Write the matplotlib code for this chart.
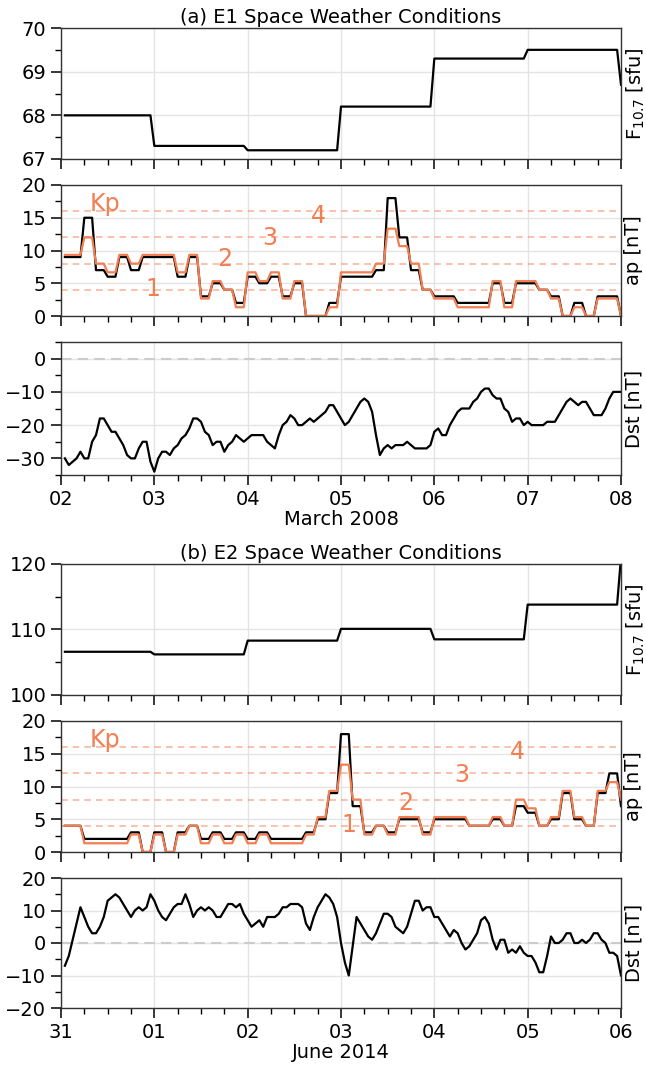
import numpy as np
import pandas as pd
import matplotlib
matplotlib.use('Agg')
import matplotlib.pyplot as plt
import matplotlib.dates as mdates
from matplotlib.ticker import MultipleLocator

# ---------------- E1, March 2008 ----------------
e1_start = '2008-03-02'
e1_f107 = [68.0, 67.3, 67.2, 68.2, 69.3, 69.5, 68.7]   # daily, last one = Mar 8
e1_ap = [9, 9, 15, 7, 6, 9, 7, 9,
         9, 9, 6, 9, 3, 5, 4, 2,
         6, 5, 6, 3, 5, 0, 0, 2,
         6, 6, 6, 7, 18, 12, 7, 4,
         3, 3, 2, 2, 2, 5, 2, 5,
         5, 4, 3, 0, 2, 0, 3, 3,
         0]                                              # 3-hourly, last one = Mar 8 00UT
e1_dst = [-30, -32, -31, -30, -28, -30, -30, -25, -23, -18, -18, -20, -22, -22, -24, -26, -29, -30, -30, -27, -25, -25, -31, -34,
          -30, -28, -28, -29, -27, -26, -24, -23, -21, -18, -18, -19, -22, -23, -26, -25, -25, -28, -26, -25, -23, -24, -25, -24,
          -23, -23, -23, -23, -25, -26, -27, -23, -20, -19, -17, -18, -20, -20, -19, -18, -19, -18, -17, -16, -14, -14, -16, -18,
          -20, -19, -17, -15, -13, -12, -13, -16, -23, -29, -27, -26, -27, -26, -26, -26, -25, -26, -27, -27, -27, -27, -26, -22,
          -21, -23, -23, -20, -18, -16, -15, -15, -15, -13, -12, -10, -9, -9, -11, -12, -12, -15, -16, -19, -18, -18, -20, -19,
          -20, -20, -20, -20, -19, -19, -19, -17, -15, -13, -12, -13, -14, -13, -13, -15, -17, -17, -17, -15, -12, -10, -10, -10]

# ---------------- E2, June 2014 ----------------
e2_start = '2014-05-31'
e2_f107 = [106.6, 106.2, 108.3, 110.1, 108.5, 113.8, 121.0]
e2_ap = [4, 4, 2, 2, 2, 2, 3, 0,
         3, 0, 3, 4, 2, 3, 2, 3,
         2, 3, 2, 2, 2, 3, 5, 9,
         18, 7, 3, 4, 3, 5, 5, 3,
         5, 5, 5, 4, 4, 5, 4, 7,
         6, 4, 5, 9, 5, 4, 9, 12,
         7]
e2_dst = [-7, -4, 1, 6, 11, 8, 5, 3, 3, 5, 8, 13, 14, 15, 14, 12, 10, 8, 10, 11, 10, 11, 15, 13,
          10, 8, 7, 9, 11, 12, 12, 15, 12, 8, 10, 11, 10, 11, 10, 8, 8, 10, 12, 12, 11, 12, 9, 7,
          5, 6, 7, 5, 8, 8, 8, 9, 11, 11, 12, 12, 12, 11, 6, 4, 8, 11, 13, 15, 14, 12, 8, 0,
          -6, -10, -1, 8, 6, 4, 2, 1, 3, 6, 9, 9, 8, 5, 4, 3, 5, 9, 13, 13, 10, 11, 11, 8,
          8, 6, 4, 2, 4, 3, 0, -2, -1, 1, 3, 7, 8, 6, 1, -2, 1, 1, -3, -2, -3, -1, -3, -4,
          -4, -6, -9, -9, -4, 2, 0, 0, 1, 3, 3, 0, 0, 1, 0, 1, 3, 3, 1, 0, -3, -3, -4, -10]

# standard ap -> Kp table
ap_table = [0, 2, 3, 4, 5, 6, 7, 9, 12, 15, 18, 22, 27]
kp_table = [0, 1/3, 2/3, 1, 4/3, 5/3, 2, 7/3, 8/3, 3, 10/3, 11/3, 4]

ORANGE = '#f27e52'
FS = 14

plt.rcParams['font.family'] = 'DejaVu Sans'
plt.rcParams['font.size'] = FS

fig = plt.figure(figsize=(6.46, 10.65), dpi=100)
W, H = 646.0, 1065.0


def make_ax(top, bottom):
    return fig.add_axes([61 / W, 1 - bottom / H, 560 / W, (bottom - top) / H])


def style(ax, start):
    t0 = mdates.date2num(pd.Timestamp(start))
    ax.set_xlim(t0, t0 + 6)
    ax.xaxis.set_major_locator(mdates.DayLocator())
    ax.xaxis.set_minor_locator(mdates.HourLocator(byhour=[6, 12, 18]))
    ax.xaxis.set_major_formatter(mdates.DateFormatter('%d'))
    ax.tick_params(which='major', direction='out', length=7.5, width=1.1, labelsize=FS, pad=3)
    ax.tick_params(which='minor', direction='out', length=4.5, width=1.0)
    ax.grid(True, which='major', color='#e4e4e4', lw=1.0)
    ax.set_axisbelow(True)
    ax.yaxis.set_label_position('right')
    for s in ax.spines.values():
        s.set_color('#333333')
        s.set_linewidth(1.0)


def event(tops, start, f107, ap, dst, title, xlabel, flim, fstep, dlim, kp_pos):
    hours = np.arange(1, 145)
    t = mdates.date2num(pd.Timestamp(start)) + hours / 24.0
    f_h = np.array(f107)[hours // 24]
    ap_h = np.array(ap)[hours // 3]
    kp = np.array([kp_table[ap_table.index(a)] for a in ap])
    kp_h = kp[hours // 3] * 4

    ax1 = make_ax(*tops[0])
    ax2 = make_ax(*tops[1])
    ax3 = make_ax(*tops[2])

    # F10.7
    ax1.plot(t, f_h, color='k', lw=1.6)
    ax1.set_ylim(*flim)
    ax1.yaxis.set_major_locator(MultipleLocator(fstep))
    ax1.yaxis.set_minor_locator(MultipleLocator(fstep / 2))
    ax1.set_ylabel('F$_{10.7}$ [sfu]', fontsize=FS, labelpad=2.5)
    ax1.set_title(title, fontsize=FS, pad=3.5)

    # ap + Kp
    for lev in [4, 8, 12, 16]:
        ax2.axhline(lev, color=ORANGE, alpha=0.55, lw=1.2, ls=(0, (4, 3)))
    ax2.plot(t, ap_h, color='k', lw=1.6)
    ax2.plot(t, kp_h, color=ORANGE, lw=1.6)
    ax2.set_ylim(0, 20)
    ax2.yaxis.set_major_locator(MultipleLocator(5))
    ax2.yaxis.set_minor_locator(MultipleLocator(2.5))
    ax2.set_ylabel('ap [nT]', fontsize=FS, labelpad=2.5)
    t0 = mdates.date2num(pd.Timestamp(start))
    for txt, (dx, y) in zip(['Kp', '1', '2', '3', '4'], kp_pos):
        ax2.text(t0 + dx, y, txt, color=ORANGE, fontsize=17, ha='center', va='baseline')

    # Dst
    ax3.axhline(0, color='#cccccc', lw=1.5, ls=(0, (5, 3)))
    ax3.plot(t, dst, color='k', lw=1.6)
    ax3.set_ylim(*dlim)
    ax3.yaxis.set_major_locator(MultipleLocator(10))
    ax3.yaxis.set_minor_locator(MultipleLocator(5))
    ax3.set_ylabel('Dst [nT]', fontsize=FS, labelpad=2.5)
    ax3.set_xlabel(xlabel, fontsize=FS, labelpad=1)

    for ax in (ax1, ax2, ax3):
        style(ax, start)
    ax1.tick_params(labelbottom=False)
    ax2.tick_params(labelbottom=False)


event([(28, 159), (185, 316), (342, 475)], e1_start, e1_f107, e1_ap, e1_dst,
      '(a) E1 Space Weather Conditions', 'March 2008', (67, 70), 1, (-35, 5),
      [(0.47, 16.0), (0.98, 3.05), (1.75, 7.6), (2.24, 10.9), (2.76, 14.25)])

event([(564, 695), (721, 852), (878, 1008)], e2_start, e2_f107, e2_ap, e2_dst,
      '(b) E2 Space Weather Conditions', 'June 2014', (100, 120), 10, (-20, 20),
      [(0.47, 16.0), (3.08, 3.05), (3.69, 6.4), (4.29, 10.7), (4.89, 14.25)])

fig.savefig('out.png', dpi=100)
